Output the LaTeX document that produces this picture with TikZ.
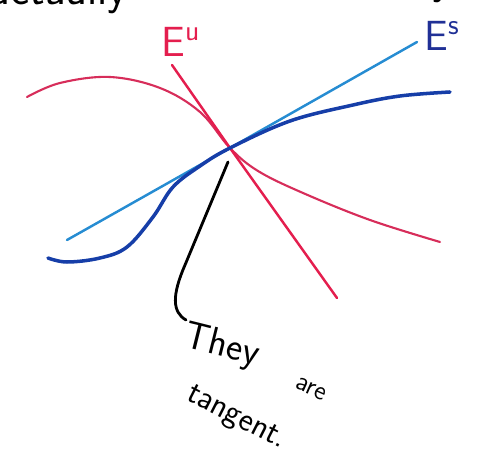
\documentclass[tikz,border=0pt]{standalone}
\usetikzlibrary{calc}

\definecolor{unstred}{RGB}{228,30,78}
\definecolor{arcred}{RGB}{215,45,90}
\definecolor{lineblue}{RGB}{38,140,210}
\definecolor{curveblue}{RGB}{22,62,168}
\definecolor{labelblue}{RGB}{32,48,150}

\begin{document}
\begin{tikzpicture}[x=0.02cm,y=-0.02cm,
    ink/.style={line width=1.6pt,line cap=round},
    hand/.style={font=\sffamily\fontsize{#1}{#1}\selectfont,inner sep=0pt},
    hand/.default=20,
    redline/.style={unstred,line width=1.4pt,line cap=round},
    lightline/.style={lineblue,line width=1.4pt,line cap=round}]

    % Page (reference size, with the cut-off line above)
    \clip (0,0) rectangle (480,472);
    \node[hand=26,anchor=base east] (prev) at (128,5) {actually};
    \node[hand=26,anchor=base east] (prevy) at (453,-6) {y};

    % Tangent point
    \coordinate (tp) at (230,148);

    % Unstable manifold and E^u
    \draw[arcred,line width=1.2pt,line cap=round]
        plot[smooth,tension=0.6] coordinates {(27,97) (60,83) (110,77)
            (160,88) (200,112) (tp) (258,171) (303,193) (370,220) (440,242)};
    \draw[redline] (172,65) -- (tp) -- (337,298);

    % Stable manifold and E^s
    \draw[lightline] (67,240) -- (tp) -- (417,42);
    \draw[curveblue,line width=2pt,line cap=round]
        plot[smooth,tension=0.6] coordinates {(48,258) (67,262) (100,258)
            (127,247) (153,217) (173,187) (200,166) (tp) (290,121)
            (353,105) (400,96) (450,92)};

    % Labels
    \node[hand=24,unstred] (eu) at (181,42) {E\textsuperscript{u}};
    \node[hand=24,labelblue] (es) at (442,36) {E\textsuperscript{s}};

    % Remark
    \node[hand=22,rotate=-14] (they) at (222,347) {They};
    \node[hand=15,rotate=-24] (are) at (311,389) {are};
    \node[hand=19,rotate=-27] (tangent) at (236,419) {tangent.};
    \coordinate (tip) at ($(tp)+(-2,14)$);
    \draw[ink] (tip) -- (185,265) .. controls (172,295) and (172,312) .. (186,320);

\end{tikzpicture}
\end{document}
